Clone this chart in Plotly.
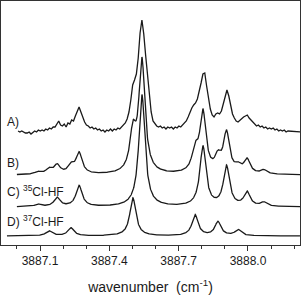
import numpy as np
import plotly.graph_objects as go

# ---- data ----
# A) experimental trace (intensity above its own baseline), sampled every 0.008 cm-1
A_start = 3887.005
A_step = 0.008
A_int = [1, 0, 1, 0, -1, -1, 0, -2, 0, 1, 0, 2, 1, 2, 1, 3, 2, 4, 3, 5,
         5, 8, 11, 7, 6, 8, 5, 9, 8, 12, 11, 16, 20, 25, 20, 14, 10, 7, 6, 4,
         5, 3, 4, 2, 3, 1, 2, 0, 2, 1, 3, 1, 3, 2, 4, 3, 5, 6, 9, 13,
         20, 32, 47, 52, 58, 74, 99, 112, 98, 77, 56, 34, 20, 11, 8, 6, 5, 6, 4, 5,
         3, 5, 4, 5, 3, 5, 4, 6, 5, 7, 8, 11, 15, 20, 24, 27, 29, 33, 40, 49,
         58, 59, 46, 33, 23, 17, 15, 18, 19, 18, 21, 28, 36, 42, 36, 26, 18, 14, 11, 10,
         12, 13, 15, 16, 17, 14, 12, 9, 8, 6, 7, 5, 6, 4, 5, 3, 4, 3, 4, 2,
         3, 1, 2, 1, 2, 0, 1]
A_tail_wn = [3888.229]
A_tail_int = [0]

# C) 35Cl-HF simulated line list
C_pos = [3887.091, 3887.174, 3887.269, 3887.541, 3887.805, 3887.907, 3887.996, 3888.069]
C_int = [2.5, 9, 21, 112, 60, 40, 14, 4]
# D) 37Cl-HF simulated line list
D_pos = [3887.139, 3887.234, 3887.502, 3887.771, 3887.870, 3887.957]
D_int = [5, 8, 38, 21, 14, 6]

offsets = {"A": 113, "B": 70, "C": 38, "D": 9}
labels = {"A": "A)", "B": "B)", "C": "C) <sup>35</sup>Cl-HF", "D": "D) <sup>37</sup>Cl-HF"}
label_y = {"A": 123, "B": 82.5, "C": 54, "D": 24}

major_ticks = [3887.1, 3887.4, 3887.7, 3888.0]
major_text = ["3887.1", "3887.4", "3887.7", "3888.0"]
minor_ticks = [3887.0, 3887.2, 3887.3, 3887.5, 3887.6, 3887.8, 3887.9, 3888.1, 3888.2]

# ---- build traces ----
hwhm = 0.016
def profile(x, pos, inten):
    y = np.zeros_like(x)
    for p, h in zip(pos, inten):
        y += h / (1 + ((x - p) / hwhm) ** 2)
    return y

A_x = list(np.round(A_start + A_step * np.arange(len(A_int)), 3)) + A_tail_wn
A_y = [v + offsets["A"] for v in A_int + A_tail_int]

x_bc = np.arange(3887.0, 3888.2255, 0.001)
x_d = np.arange(3886.957, 3888.2255, 0.001)
C_y = profile(x_bc, C_pos, C_int) + offsets["C"]
B_y = profile(x_bc, C_pos + D_pos, C_int + D_int) + offsets["B"]
D_y = profile(x_d, D_pos, D_int) + offsets["D"]

line = dict(color="#1a1a1a", width=1.3)
fig = go.Figure()
fig.add_trace(go.Scatter(x=A_x, y=A_y, mode="lines", line=line))
fig.add_trace(go.Scatter(x=x_bc, y=B_y, mode="lines", line=line))
fig.add_trace(go.Scatter(x=x_bc, y=C_y, mode="lines", line=line))
fig.add_trace(go.Scatter(x=x_d, y=D_y, mode="lines", line=line))

for k in ["A", "B", "C", "D"]:
    fig.add_annotation(x=3886.949, y=label_y[k], xref="x", yref="y", text=labels[k],
                       showarrow=False, xanchor="left", yanchor="middle",
                       font=dict(family="Liberation Sans, Arial", size=12, color="#1a1a1a"))

fig.update_layout(
    width=302, height=295,
    margin=dict(l=1, r=2, t=1, b=50),
    paper_bgcolor="white", plot_bgcolor="white",
    showlegend=False,
    font=dict(family="Liberation Sans, Arial", size=12, color="#1a1a1a"),
)
fig.update_xaxes(
    range=[3886.9312, 3888.2251],
    automargin=False,
    showgrid=False, zeroline=False,
    showline=True, linecolor="#333", linewidth=1, mirror=True,
    tickmode="array", tickvals=major_ticks, ticktext=major_text,
    ticks="outside", ticklen=5, tickcolor="#333", tickwidth=1,
    minor=dict(tickmode="array", tickvals=minor_ticks, ticks="outside", ticklen=3,
               tickcolor="#333", tickwidth=1),
    tickfont=dict(size=12),
    title=dict(text="wavenumber&nbsp;&nbsp;(cm<sup>-1</sup>)", font=dict(size=14), standoff=18),
)
fig.update_yaxes(
    range=[0, 244],
    automargin=False,
    showgrid=False, zeroline=False, showticklabels=False, ticks="",
    showline=True, linecolor="#333", linewidth=1, mirror=True,
)
fig.write_html("out.html",
               config={"displayModeBar": False, "staticPlot": True},
               post_script="document.body.style.margin='0';document.body.style.overflow='hidden';")
